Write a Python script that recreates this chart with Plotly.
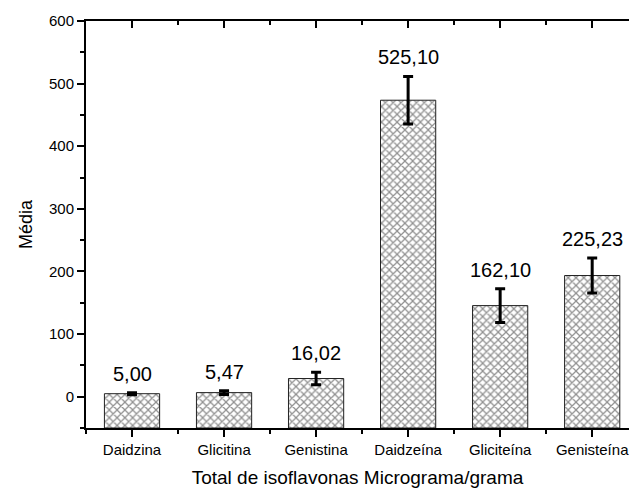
import plotly.graph_objects as go

categories = ["Daidzina", "Glicitina", "Genistina", "Daidzeína", "Gliciteína", "Genisteína"]
means = [4.8, 6.5, 29.0, 473.5, 145.5, 193.5]
errors = [1.5, 3.0, 10.0, 38.0, 27.0, 28.0]
value_labels = ["5,00", "5,47", "16,02", "525,10", "162,10", "225,23"]
y_ticks = [0, 100, 200, 300, 400, 500, 600]
y_min, y_max = -50, 600

xpos = list(range(len(categories)))
FONT = "Liberation Sans, Arial, sans-serif"

fig = go.Figure()
# bars drawn from the bottom of the axis (as in the original)
fig.add_trace(go.Bar(
    x=xpos, y=[m - y_min for m in means], base=y_min, width=0.6,
    marker=dict(color="white",
                line=dict(color="#222222", width=1),
                pattern=dict(shape="x", fgcolor="#222222", bgcolor="white", size=5.5, solidity=0.4)),
    showlegend=False, hoverinfo="skip",
))
# error bars
fig.add_trace(go.Scatter(
    x=xpos, y=means, mode="markers", marker=dict(opacity=0, size=1),
    error_y=dict(type="data", array=errors, visible=True, color="black", thickness=3, width=5),
    showlegend=False, hoverinfo="skip",
))
# invisible trace to anchor the top axis
fig.add_trace(go.Scatter(x=[xpos[0]], y=[0], xaxis="x2", mode="markers",
                         marker=dict(opacity=0), showlegend=False, hoverinfo="skip"))

for xi, m, e, lab in zip(xpos, means, errors, value_labels):
    fig.add_annotation(x=xi, y=m + e, text=lab, showarrow=False, yanchor="bottom",
                       yshift=6, font=dict(family=FONT, size=20, color="black"))

fig.update_layout(
    width=629, height=488,
    margin=dict(l=86, r=0, t=21, b=60),
    paper_bgcolor="white", plot_bgcolor="white",
    font=dict(family=FONT, color="black"),
    xaxis=dict(range=[-0.5, 5.4], tickmode="array", tickvals=xpos, ticktext=categories,
               ticklabeloverflow="allow",
               showline=True, linecolor="black", linewidth=2, ticks="outside", ticklen=7,
               tickwidth=1.5, tickcolor="black", showgrid=False, zeroline=False,
               tickfont=dict(family=FONT, size=15, color="black"),
               minor=dict(tick0=0.5, dtick=1, ticks="outside", ticklen=4, tickwidth=1.5,
                          tickcolor="black", showgrid=False),
               title=dict(text="Total de isoflavonas Micrograma/grama", standoff=15,
                          font=dict(family=FONT, size=19, color="black"))),
    xaxis2=dict(overlaying="x", side="top", matches="x", range=[-0.5, 5.4],
                tickmode="array", tickvals=xpos, showticklabels=False,
                showline=True, linecolor="black", linewidth=2, ticks="inside", ticklen=7,
                tickwidth=1.5, tickcolor="black", showgrid=False, zeroline=False,
                minor=dict(tick0=0.5, dtick=1, ticks="inside", ticklen=4, tickwidth=1.5,
                           tickcolor="black", showgrid=False)),
    yaxis=dict(range=[y_min, y_max], tickmode="array", tickvals=y_ticks,
               showline=True, linecolor="black", linewidth=2, ticks="outside", ticklen=7,
               tickwidth=1.5, tickcolor="black", showgrid=False, zeroline=False,
               tickfont=dict(family=FONT, size=15, color="black"),
               minor=dict(tick0=50, dtick=100, ticks="outside", ticklen=4, tickwidth=1.5,
                          tickcolor="black", showgrid=False),
               title=dict(text="Média", standoff=12,
                          font=dict(family=FONT, size=18, color="black"))),
)

fig.write_html("out.html")
